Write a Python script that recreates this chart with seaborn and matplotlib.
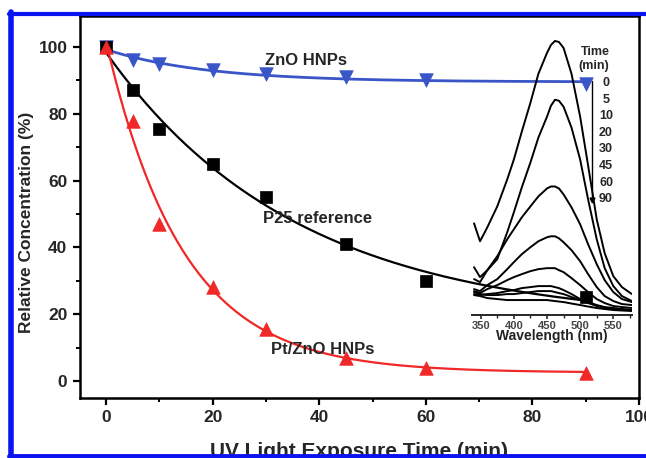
import numpy as np
import pandas as pd
import matplotlib
matplotlib.use("Agg")
import matplotlib.pyplot as plt
from matplotlib.lines import Line2D
from matplotlib.ticker import MultipleLocator
import seaborn as sns

# ---------------- data ----------------
time_min = [0, 5, 10, 20, 30, 45, 60, 90]
zno = [100, 96, 95, 93, 92, 91, 90, 89]
p25 = [100, 87, 75.5, 65, 55, 41, 30, 25]
ptzno = [100, 78, 47, 28, 15.5, 7, 4, 2.5]

series_names = ["ZnO HNPs", "P25 reference", "Pt/ZnO HNPs"]
series_colors = ["#3a55c8", "#000000", "#f02828"]
series_markers = ["v", "s", "^"]

# inset spectra (wavelength in nm, absorbance arbitrary units)
wavelength = [340, 349, 360, 375, 390, 400, 412, 425, 437, 450, 456, 462, 468, 475,
              487, 500, 512, 525, 537, 550, 563, 578]
spec_0 = [0.92, 0.74, 0.88, 1.09, 1.36, 1.56, 1.84, 2.13, 2.42, 2.63, 2.71, 2.75, 2.74, 2.68,
          2.42, 1.99, 1.50, 0.96, 0.62, 0.39, 0.28, 0.21]
spec_5 = [0.48, 0.38, 0.45, 0.56, 0.83, 1.03, 1.28, 1.53, 1.78, 1.99, 2.10, 2.16, 2.15, 2.09,
          1.88, 1.56, 1.16, 0.76, 0.47, 0.29, 0.19, 0.14]
spec_10 = [0.36, 0.33, 0.45, 0.59, 0.76, 0.86, 0.98, 1.09, 1.19, 1.27, 1.29, 1.29, 1.27, 1.21,
           1.08, 0.91, 0.71, 0.51, 0.35, 0.23, 0.16, 0.13]
spec_20 = [0.26, 0.24, 0.30, 0.36, 0.46, 0.53, 0.61, 0.68, 0.74, 0.78, 0.79, 0.79, 0.77, 0.73,
           0.65, 0.54, 0.41, 0.28, 0.19, 0.14, 0.11, 0.10]
spec_30 = [0.24, 0.22, 0.26, 0.30, 0.35, 0.38, 0.41, 0.44, 0.46, 0.47, 0.47, 0.47, 0.45, 0.43,
           0.37, 0.30, 0.23, 0.16, 0.12, 0.09, 0.08, 0.07]
spec_45 = [0.21, 0.20, 0.21, 0.22, 0.24, 0.25, 0.27, 0.28, 0.29, 0.29, 0.29, 0.28, 0.27, 0.25,
           0.21, 0.16, 0.13, 0.10, 0.08, 0.07, 0.06, 0.05]
spec_60 = [0.23, 0.21, 0.20, 0.20, 0.21, 0.21, 0.22, 0.23, 0.24, 0.24, 0.24, 0.23, 0.22, 0.21,
           0.18, 0.15, 0.12, 0.09, 0.07, 0.06, 0.055, 0.05]
spec_90 = [0.20, 0.19, 0.17, 0.16, 0.15, 0.15, 0.15, 0.15, 0.15, 0.15, 0.145, 0.14, 0.135, 0.13,
           0.115, 0.10, 0.085, 0.07, 0.06, 0.05, 0.045, 0.04]
spectra_times = ["0", "5", "10", "20", "30", "45", "60", "90"]

# ---------------- style ----------------
sns.set_theme(style="ticks")
plt.rcParams["font.family"] = ["Liberation Sans", "DejaVu Sans"]
plt.rcParams["font.weight"] = "bold"
plt.rcParams["lines.solid_joinstyle"] = "round"

W, H = 646, 458
fig = plt.figure(figsize=(W / 100, H / 100), dpi=100)
fig.patch.set_facecolor("white")

def fx(px):
    return px / W

def fy(py):
    return 1 - py / H

ax = fig.add_axes([fx(80), fy(398), fx(639) - fx(80), fy(16) - fy(398)])
ax.set_facecolor("white")

# exponential-decay fit y = a + b*exp(-x/tau), least squares over tau grid
def exp_fit(x, y):
    x = np.asarray(x, float)
    y = np.asarray(y, float)
    best = None
    for tau in np.linspace(1, 100, 2000):
        M = np.column_stack([np.ones_like(x), np.exp(-x / tau)])
        coef, *_ = np.linalg.lstsq(M, y, rcond=None)
        err = np.sum((M @ coef - y) ** 2)
        if best is None or err < best[0]:
            best = (err, tau, coef)
    _, tau, coef = best
    xf = np.linspace(0, max(x), 300)
    return xf, coef[0] + coef[1] * np.exp(-xf / tau)

for vals, name, col, mk in zip([zno, p25, ptzno], series_names, series_colors, series_markers):
    xf, yf = exp_fit(time_min, vals)
    sns.lineplot(x=xf, y=yf, ax=ax, color=col, lw=2.0 if mk == "v" else 1.6, zorder=3)
    sns.scatterplot(x=time_min, y=vals, ax=ax, color=col, marker=mk,
                    s=95 if mk != "s" else 75, edgecolor=col, linewidth=0.5, zorder=5)

ax.set_xlim(-4.9, 100)
ax.set_ylim(-5.1, 109.3)
ax.xaxis.set_major_locator(MultipleLocator(20))
ax.xaxis.set_minor_locator(MultipleLocator(10))
ax.yaxis.set_major_locator(MultipleLocator(20))
ax.yaxis.set_minor_locator(MultipleLocator(10))
ax.tick_params(axis="both", which="major", direction="out", length=5, width=1.6,
               labelsize=12.5, color="black", pad=4)
ax.tick_params(axis="both", which="minor", direction="out", length=3, width=1.4, color="black")
for lab in ax.get_xticklabels() + ax.get_yticklabels():
    lab.set_fontweight("bold")
for sp in ax.spines.values():
    sp.set_linewidth(1.8)
    sp.set_color("black")

ax.set_xlabel("UV Light Exposure Time (min)", fontsize=15, fontweight="bold", labelpad=12)
ax.set_ylabel("Relative Concentration (%)", fontsize=12.5, fontweight="bold", labelpad=4)
ax.yaxis.set_label_coords(-0.083, 0.46)

ax.text(37.6, 96.1, "ZnO HNPs", ha="center", va="center", fontsize=12, fontweight="bold")
ax.text(39.7, 48.8, "P25 reference", ha="center", va="center", fontsize=12, fontweight="bold")
ax.text(40.6, 9.3, "Pt/ZnO HNPs", ha="center", va="center", fontsize=12, fontweight="bold")

# ---------------- inset ----------------
ins = fig.add_axes([fx(472), fy(315), fx(632) - fx(472), fy(30) - fy(315)])
ins.patch.set_alpha(0)
for spec in [spec_0, spec_5, spec_10, spec_20, spec_30, spec_45, spec_60, spec_90]:
    sns.lineplot(x=wavelength, y=spec, ax=ins, color="black", lw=1.4)
ins.set_xlim(336.9, 578.2)
ins.set_ylim(0, 2.86)
for s in ["left", "right", "top"]:
    ins.spines[s].set_visible(False)
ins.spines["bottom"].set_linewidth(1.4)
ins.set_yticks([])
ins.xaxis.set_major_locator(MultipleLocator(50))
ins.xaxis.set_minor_locator(MultipleLocator(25))
ins.tick_params(axis="x", which="major", direction="out", length=3, width=1.2, labelsize=8,
                pad=1, labelcolor="#444444")
ins.tick_params(axis="x", which="minor", direction="out", length=2, width=1)
for lab in ins.get_xticklabels():
    lab.set_fontweight("bold")
ins.set_xlabel("Wavelength (nm)", fontsize=10, fontweight="bold", labelpad=-1, color="#222222")
ins.set_ylabel("")

# time legend of inset
fig.text(fx(595), fy(52), "Time", ha="center", va="center", fontsize=9, fontweight="bold")
fig.text(fx(594), fy(66), "(min)", ha="center", va="center", fontsize=9, fontweight="bold")
for i, t in enumerate(spectra_times):
    fig.text(fx(606), fy(83 + i * 16.6), t, ha="center", va="center", fontsize=9, fontweight="bold")
fig.add_artist(Line2D([fx(592), fx(592)], [fy(81), fy(200)], color="black", lw=1.0))
fig.add_artist(Line2D([fx(592)], [fy(200)], marker="v", color="black", markersize=3.5, lw=0))

# blue frame
blue = "#0a14f0"
fig.add_artist(Line2D([fx(11), fx(11)], [fy(12), fy(458)], color=blue, lw=4))
fig.add_artist(Line2D([fx(9), fx(646)], [fy(13.5), fy(13.5)], color=blue, lw=3))
fig.add_artist(Line2D([fx(9), fx(646)], [fy(456), fy(456)], color=blue, lw=3.5))

fig.savefig("out.png", dpi=100, facecolor="white")
